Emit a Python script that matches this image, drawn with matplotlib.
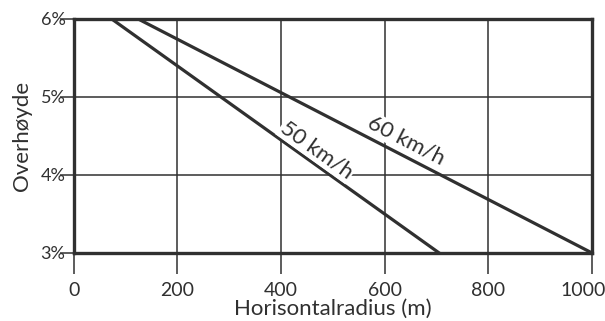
import matplotlib
import numpy as np

matplotlib.use("Agg")
import matplotlib.pyplot as plt
from matplotlib.transforms import ScaledTranslation

# grade (%) vs horizontal radius (m), one straight line per design speed
grade = [6, 3]
radius_50 = [73, 705]
radius_60 = [124, 1000]

x_ticks = [0, 200, 400, 600, 800, 1000]
y_ticks = [3, 4, 5, 6]
y_labels = ["3%", "4%", "5%", "6%"]

ink = "#303030"


def screen_angle(ax, xs, ys):
    p1, p2 = ax.transData.transform(np.column_stack([xs, ys]))
    return np.degrees(np.arctan2(p2[1] - p1[1], p2[0] - p1[0]))


def build_plot():
    plt.rcParams["font.family"] = ["Lato", "DejaVu Sans"]
    fig = plt.figure(figsize=(6.05, 3.21), dpi=100)
    ax = fig.add_axes([0.122, 0.212, 0.8565, 0.729])

    ax.set_xlim(0, 1000)
    ax.set_ylim(3, 6)

    for x in x_ticks[1:-1]:
        ax.axvline(x, color=ink, linewidth=1.1, zorder=1)
    for y in y_ticks[1:-1]:
        ax.axhline(y, color=ink, linewidth=1.1, zorder=1)

    ax.plot(radius_50, grade, color=ink, linewidth=2.3, zorder=3)
    ax.plot(radius_60, grade, color=ink, linewidth=2.3, zorder=3)

    box = dict(facecolor="white", edgecolor="none", pad=1.0)
    ax.text(641, 4.44, "60 km/h", rotation=screen_angle(ax, radius_60, grade),
            rotation_mode="anchor", ha="center", va="center", fontsize=16,
            color=ink, bbox=box, zorder=4)
    ax.text(469, 4.32, "50 km/h", rotation=screen_angle(ax, radius_50, grade),
            rotation_mode="anchor", ha="center", va="center", fontsize=16,
            color=ink, bbox=box, zorder=4)

    for side in ax.spines.values():
        side.set_linewidth(2.4)
        side.set_color(ink)

    ax.set_xticks(x_ticks)
    ax.set_yticks(y_ticks)
    ax.set_yticklabels(y_labels)
    ax.tick_params(axis="x", length=15, width=1.1, color=ink, pad=6,
                   labelsize=14, labelcolor=ink)
    ax.tick_params(axis="y", length=10, width=1.1, color=ink, pad=-4,
                   labelsize=13, labelcolor=ink)
    last = ax.get_xticklabels()[-1]
    last.set_transform(last.get_transform() + ScaledTranslation(-0.09, 0, fig.dpi_scale_trans))

    ax.set_xlabel("Horisontalradius (m)", fontsize=16, color=ink, labelpad=0)
    ax.set_ylabel("Overhøyde", fontsize=16, color=ink, labelpad=6)
    return fig, ax


def main() -> None:
    fig, _ = build_plot()
    fig.savefig("out.png", dpi=100)


if __name__ == "__main__":
    main()
